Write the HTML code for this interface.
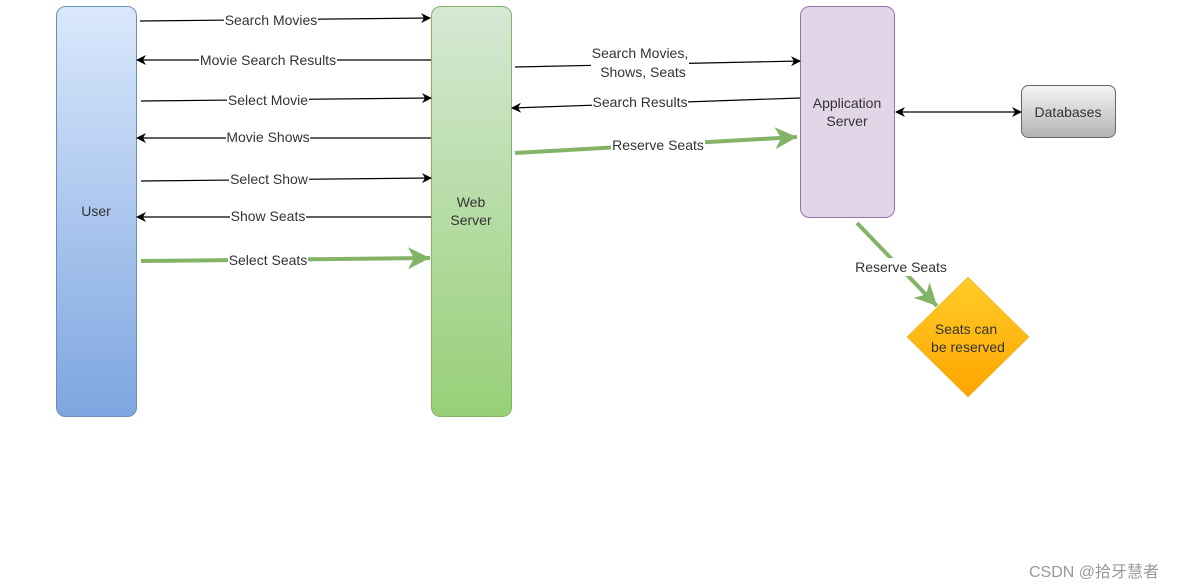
<!DOCTYPE html>
<html><head><meta charset="utf-8"><style>
html,body{margin:0;padding:0;background:#fff;width:1179px;height:588px;overflow:hidden}
svg{display:block}
text{font-family:"Liberation Sans",Arial,sans-serif;font-size:14px;fill:#333}
.l{text-anchor:middle;dominant-baseline:central}
</style></head><body>
<svg width="1179" height="588" viewBox="0 0 1179 588" xmlns="http://www.w3.org/2000/svg">
<defs>
<linearGradient id="gu" x1="0" y1="0" x2="0" y2="1"><stop offset="0" stop-color="#dae8fc"/><stop offset="1" stop-color="#7ea6e0"/></linearGradient>
<linearGradient id="gw" x1="0" y1="0" x2="0" y2="1"><stop offset="0" stop-color="#d5e8d4"/><stop offset="1" stop-color="#97d077"/></linearGradient>
<linearGradient id="gd" x1="0" y1="0" x2="0" y2="1"><stop offset="0" stop-color="#f5f5f5"/><stop offset="1" stop-color="#b3b3b3"/></linearGradient>
<linearGradient id="gy" x1="0" y1="0" x2="0" y2="1"><stop offset="0" stop-color="#ffcd28"/><stop offset="1" stop-color="#ffa500"/></linearGradient>
<marker id="a" markerWidth="10" markerHeight="10" refX="9" refY="5" orient="auto" markerUnits="userSpaceOnUse"><path d="M0,0 L10,5 L0,10 L3,5 z" fill="#000"/></marker>
<marker id="as" markerWidth="10" markerHeight="10" refX="1" refY="5" orient="auto" markerUnits="userSpaceOnUse"><path d="M10,0 L0,5 L10,10 L7,5 z" fill="#000"/></marker>
<marker id="g" markerWidth="24" markerHeight="22" refX="22" refY="11" orient="auto" markerUnits="userSpaceOnUse"><path d="M0,0 L22,11 L0,22 L6,11 z" fill="#82b366"/></marker>
</defs>
<rect x="56.5" y="6.5" width="80" height="410" rx="9" fill="url(#gu)" stroke="#6c8ebf"/>
<text class="l" x="96" y="211">User</text>
<rect x="431.5" y="6.5" width="80" height="410" rx="9" fill="url(#gw)" stroke="#82b366"/>
<text class="l" x="471" y="202">Web</text><text class="l" x="471" y="220">Server</text>
<rect x="800.5" y="6.5" width="94" height="211" rx="9" fill="#e1d5e7" stroke="#9673a6"/>
<text class="l" x="847" y="103">Application</text><text class="l" x="847" y="121">Server</text>
<rect x="1021.5" y="85.5" width="94" height="52" rx="7" fill="url(#gd)" stroke="#666"/>
<text class="l" x="1068" y="112">Databases</text>
<polygon points="968,277 1029,337 968,397 907,337" fill="url(#gy)" stroke="#d79b00" stroke-width="0.5"/>
<text class="l" x="966" y="329">Seats can</text><text class="l" x="968" y="347">be reserved</text>

<g stroke="#000" stroke-width="1.2" fill="none">
<line x1="140" y1="21" x2="430" y2="18" marker-end="url(#a)"/>
<line x1="431" y1="60" x2="137" y2="60" marker-end="url(#a)"/>
<line x1="141" y1="101" x2="431" y2="98" marker-end="url(#a)"/>
<line x1="431" y1="138" x2="137" y2="138" marker-end="url(#a)"/>
<line x1="141" y1="181" x2="431" y2="178" marker-end="url(#a)"/>
<line x1="431" y1="217" x2="137" y2="217" marker-end="url(#a)"/>
<line x1="515" y1="67" x2="800" y2="61" marker-end="url(#a)"/>
<line x1="800" y1="98" x2="512" y2="108" marker-end="url(#a)"/>
<line x1="896" y1="112" x2="1021" y2="112" marker-start="url(#as)" marker-end="url(#a)"/>
</g>
<g stroke="#82b366" stroke-width="4" fill="none">
<line x1="141" y1="261" x2="430" y2="258" marker-end="url(#g)"/>
<line x1="515" y1="153" x2="797" y2="137" marker-end="url(#g)"/>
<line x1="857" y1="223" x2="937" y2="306" marker-end="url(#g)"/>
</g>
<g fill="#fff">
<rect x="224" y="12" width="94" height="16"/>
<rect x="199" y="52" width="138" height="16"/>
<rect x="227" y="92" width="82" height="16"/>
<rect x="226" y="129" width="84" height="16"/>
<rect x="229" y="171" width="80" height="16"/>
<rect x="230" y="208" width="76" height="16"/>
<rect x="228" y="252" width="80" height="16"/>
<rect x="591" y="44" width="98" height="36"/>
<rect x="592" y="94" width="96" height="16"/>
<rect x="611" y="137" width="94" height="16"/>
<rect x="854" y="258" width="94" height="18"/>
</g>
<g>
<text class="l" x="271" y="20">Search Movies</text>
<text class="l" x="268" y="60">Movie Search Results</text>
<text class="l" x="268" y="100">Select Movie</text>
<text class="l" x="268" y="137">Movie Shows</text>
<text class="l" x="269" y="179">Select Show</text>
<text class="l" x="268" y="216">Show Seats</text>
<text class="l" x="268" y="260">Select Seats</text>
<text class="l" x="640" y="53">Search Movies,</text><text class="l" x="643" y="72">Shows, Seats</text>
<text class="l" x="640" y="102">Search Results</text>
<text class="l" x="658" y="145">Reserve Seats</text>
<text class="l" x="901" y="267">Reserve Seats</text>
</g>
<text x="1029" y="577" style="font-size:16px;fill:#999;font-family:'Liberation Sans','Noto Sans CJK SC',sans-serif">CSDN @拾牙慧者</text>
</svg>
</body></html>
